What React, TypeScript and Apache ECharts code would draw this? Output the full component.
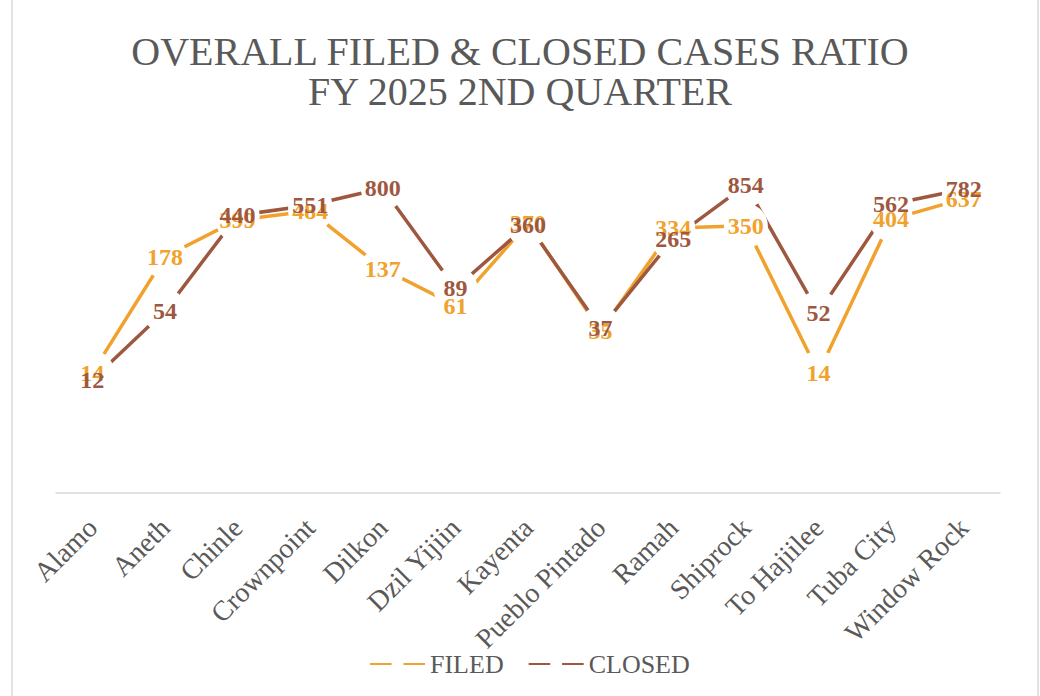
import React, { useEffect, useRef } from 'react';
import * as echarts from 'echarts';

const categories = [
  'Alamo', 'Aneth', 'Chinle', 'Crownpoint', 'Dilkon', 'Dzil Yijiin', 'Kayenta',
  'Pueblo Pintado', 'Ramah', 'Shiprock', 'To Hajiilee', 'Tuba City', 'Window Rock',
];
const filed = [14, 178, 399, 484, 137, 61, 370, 35, 334, 350, 14, 404, 637];
const closed = [12, 54, 440, 551, 800, 89, 360, 37, 265, 854, 52, 562, 782];
const seriesNames = ['FILED', 'CLOSED'];
const seriesColors = ['#F0A22C', '#9E583F'];
const titleLines = ['OVERALL FILED & CLOSED CASES RATIO', 'FY 2025 2ND QUARTER'];

const FONT = "'Liberation Serif', 'Times New Roman', serif";
const TEXT = '#595959';

export default function App() {
  const ref = useRef<HTMLDivElement>(null);
  useEffect(() => {
    if (!ref.current) return;
    const chart = echarts.init(ref.current, undefined, { renderer: 'svg' });
    const values = [filed, closed];
    const lineSeries = values.map((d, i) => ({
      name: seriesNames[i],
      type: 'line',
      data: d,
      symbol: 'circle',
      symbolSize: 44,
      showSymbol: true,
      showAllSymbol: true,
      itemStyle: { color: '#ffffff', borderWidth: 0 },
      lineStyle: { color: seriesColors[i], width: 3.5 },
      label: { show: false },
      emphasis: { disabled: true },
      z: 2,
    }));
    const labelSeries = values.map((d, i) => ({
      name: seriesNames[i] + ' labels',
      type: 'scatter',
      data: d,
      symbol: 'circle',
      symbolSize: 1,
      itemStyle: { color: 'rgba(255,255,255,0)', opacity: 1 },
      label: {
        show: true,
        position: 'inside',
        formatter: (p: any) => String(Array.isArray(p.value) ? p.value[1] : p.value),
        color: seriesColors[i],
        opacity: 1,
        fontFamily: FONT,
        fontWeight: 'bold',
        fontSize: 24,
      },
      emphasis: { disabled: true },
      z: 5 + i,
    }));
    chart.setOption({
      animation: false,
      backgroundColor: '#ffffff',
      title: {
        text: titleLines.join('\n'),
        left: 'center',
        top: 26,
        textStyle: {
          fontFamily: FONT,
          fontSize: 40,
          fontWeight: 'normal',
          color: TEXT,
          lineHeight: 40,
        },
      },
      legend: {
        data: seriesNames,
        left: 364,
        top: 646,
        itemWidth: 55,
        itemHeight: 15,
        itemGap: 24,
        textStyle: { fontFamily: FONT, fontSize: 26, color: TEXT },
      },
      grid: { left: 56, right: 40, top: 178, bottom: 203 },
      xAxis: {
        type: 'category',
        data: categories,
        boundaryGap: true,
        axisLine: { lineStyle: { color: '#d9d9d9', width: 1.5 } },
        axisTick: { show: false },
        axisLabel: {
          interval: 0,
          rotate: 45,
          margin: 30,
          fontFamily: FONT,
          fontSize: 28,
          color: TEXT,
        },
      },
      yAxis: {
        type: 'log',
        logBase: 10,
        min: 1,
        max: 1000,
        axisLine: { show: false },
        axisTick: { show: false },
        axisLabel: { show: false },
        splitLine: { show: false },
      },
      graphic: [
        {
          type: 'rect',
          shape: { x: 12, y: -5, width: 1026, height: 720 },
          style: { fill: 'none', stroke: '#d9d9d9', lineWidth: 1.5 },
          silent: true,
        },
      ],
      series: [...lineSeries, ...labelSeries],
    });
    return () => chart.dispose();
  }, []);
  return (
    <div
      ref={ref}
      style={{ position: 'fixed', left: 0, top: 0, width: 1040, height: 696 }}
    />
  );
}
